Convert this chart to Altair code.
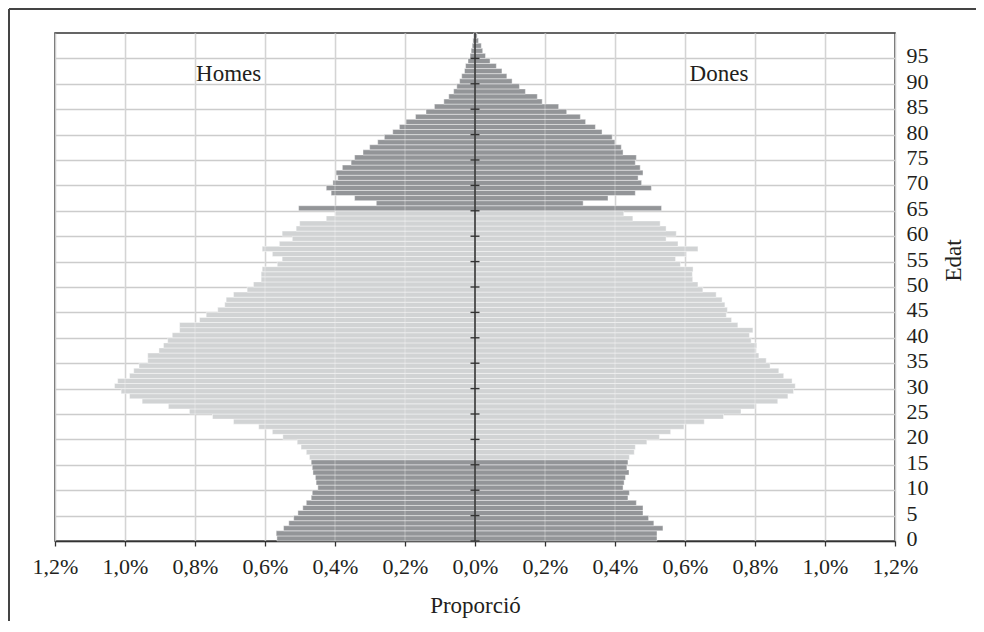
import altair as alt
import pandas as pd

# ---- data ----
ages = list(range(100))
homes = [
    0.566, 0.568, 0.547, 0.532, 0.518, 0.506, 0.492, 0.482, 0.468, 0.465,
    0.449, 0.454, 0.456, 0.463, 0.465, 0.468, 0.473, 0.482, 0.497, 0.508,
    0.549, 0.579, 0.618, 0.690, 0.750, 0.816, 0.876, 0.951, 0.987, 1.011,
    1.030, 1.021, 0.987, 0.975, 0.960, 0.935, 0.935, 0.903, 0.890, 0.878,
    0.865, 0.844, 0.844, 0.787, 0.768, 0.735, 0.715, 0.711, 0.690, 0.651,
    0.633, 0.611, 0.611, 0.608, 0.565, 0.551, 0.579, 0.608, 0.559, 0.522,
    0.551, 0.511, 0.501, 0.425, 0.399, 0.504, 0.282, 0.344, 0.411, 0.425,
    0.406, 0.392, 0.397, 0.379, 0.354, 0.344, 0.320, 0.301, 0.278, 0.259,
    0.235, 0.216, 0.197, 0.170, 0.140, 0.116, 0.089, 0.075, 0.061, 0.052,
    0.044, 0.038, 0.030, 0.027, 0.020, 0.014, 0.011, 0.008, 0.006, 0.004,
]
dones = [
    0.520, 0.520, 0.537, 0.511, 0.496, 0.480, 0.480, 0.461, 0.437, 0.441,
    0.423, 0.426, 0.430, 0.440, 0.434, 0.437, 0.441, 0.455, 0.458, 0.491,
    0.527, 0.559, 0.597, 0.655, 0.710, 0.760, 0.800, 0.865, 0.894, 0.910,
    0.915, 0.906, 0.882, 0.868, 0.843, 0.832, 0.811, 0.803, 0.805, 0.789,
    0.784, 0.794, 0.751, 0.733, 0.718, 0.721, 0.714, 0.706, 0.689, 0.651,
    0.637, 0.622, 0.621, 0.623, 0.587, 0.573, 0.604, 0.637, 0.580, 0.546,
    0.575, 0.546, 0.529, 0.451, 0.425, 0.533, 0.309, 0.380, 0.458, 0.504,
    0.476, 0.466, 0.480, 0.472, 0.458, 0.461, 0.423, 0.418, 0.400, 0.392,
    0.363, 0.344, 0.316, 0.301, 0.262, 0.239, 0.192, 0.178, 0.144, 0.127,
    0.106, 0.091, 0.077, 0.061, 0.043, 0.030, 0.022, 0.018, 0.010, 0.006,
]
age_ticks = list(range(0, 100, 5))
x_ticks = [-1.2, -1.0, -0.8, -0.6, -0.4, -0.2, 0.0, 0.2, 0.4, 0.6, 0.8, 1.0, 1.2]
inner_grid = [-1.0, -0.8, -0.6, -0.4, -0.2, 0.2, 0.4, 0.6, 0.8, 1.0]
sex_labels = ["Homes", "Dones"]
sex_label_x = [-0.704, 0.697]
sex_label_y = [90.55, 90.55]
group_names = ["dependent", "actiu"]
group_colors = ["#939598", "#d1d3d4"]

# ---- tables ----
rows = []
for a, h, d in zip(ages, homes, dones):
    g = "dependent" if (a <= 15 or a >= 65) else "actiu"
    rows.append({"edat": a, "sexe": "Homes", "valor": -h, "grup": g, "zero": 0.0})
    rows.append({"edat": a, "sexe": "Dones", "valor": d, "grup": g, "zero": 0.0})
df = pd.DataFrame(rows)
lab_df = pd.DataFrame({"t": sex_labels, "x": sex_label_x, "y": sex_label_y})
tick_df = pd.DataFrame({"e": age_ticks, "zero": [0.0] * len(age_ticks)})
axis_df = pd.DataFrame({"e0": [0], "e1": [100], "zero": [0.0]})
grid_df = pd.DataFrame({"g": inner_grid, "e0": [0] * len(inner_grid), "e1": [100] * len(inner_grid)})
one = pd.DataFrame({"k": [0]})

FONT = "Liberation Serif"
TXT = "#231f20"
xscale = alt.Scale(domain=[-1.2, 1.2], nice=False, zero=False)
yscale = alt.Scale(domain=[0, 100], nice=False, zero=False)

X_AXIS = alt.Axis(
    values=x_ticks,
    labelExpr="replace(format(abs(datum.value), '.1f'), '.', ',') + '%'",
    title="Proporció", grid=True, gridColor="#cccccc", gridWidth=1.5,
    domainColor="#333333", domainWidth=1.5, tickColor="#333333",
    tickSize=5, tickWidth=1.3, labelFont=FONT, labelFontSize=22,
    labelColor=TXT, labelPadding=10, labelFlush=False, labelOverlap=False,
    titleFont=FONT, titleFontSize=23, titleFontWeight="normal",
    titleColor=TXT, titleY=71, titleBaseline="alphabetic",
)
Y_AXIS = alt.Axis(
    orient="right", values=age_ticks, title="Edat", grid=True,
    gridColor="#cccccc", gridWidth=1.5, domain=False, ticks=False,
    tickSize=0, labelPadding=11, labelOffset=-2.5, labelAlign="left",
    labelBaseline="middle", labelFont=FONT, labelFontSize=22,
    labelColor=TXT, labelFlush=False, labelOverlap=False,
    titleFont=FONT, titleFontSize=23, titleFontWeight="normal",
    titleColor=TXT, titleAngle=270, titleX=58, titleY=227,
    titleAlign="center", titleBaseline="middle",
)

bars = alt.Chart(df).transform_calculate(
    e0="datum.edat", e1="datum.edat + 1"
).mark_rect(stroke="white", strokeWidth=0.7, strokeOpacity=0.6).encode(
    x=alt.X("zero:Q", scale=xscale, axis=X_AXIS),
    x2="valor:Q",
    y=alt.Y("e0:Q", scale=yscale, axis=Y_AXIS),
    y2="e1:Q",
    color=alt.Color("grup:N", scale=alt.Scale(domain=group_names, range=group_colors), legend=None),
)

overlay_grid = alt.Chart(grid_df).mark_rule(color="white", strokeOpacity=0.35, strokeWidth=1).encode(
    x=alt.X("g:Q", scale=xscale, axis=X_AXIS),
    y=alt.Y("e0:Q", scale=yscale, axis=Y_AXIS),
    y2="e1:Q",
)

center = alt.Chart(axis_df).mark_rule(color="#333333", strokeWidth=1.6).encode(
    x=alt.X("zero:Q", scale=xscale, axis=X_AXIS),
    y=alt.Y("e0:Q", scale=yscale, axis=Y_AXIS),
    y2="e1:Q",
)

center_ticks = alt.Chart(tick_df).mark_rule(
    color="#333333", strokeWidth=1.4, xOffset=-4.5, x2Offset=4.5
).encode(
    x=alt.X("zero:Q", scale=xscale, axis=X_AXIS),
    x2="zero:Q",
    y=alt.Y("e:Q", scale=yscale, axis=Y_AXIS),
)

texts = alt.Chart(lab_df).mark_text(
    font=FONT, fontSize=23, color=TXT, baseline="alphabetic", align="center"
).encode(
    x=alt.X("x:Q", scale=xscale, axis=X_AXIS),
    y=alt.Y("y:Q", scale=yscale, axis=Y_AXIS),
    text="t:N",
)

left_line = alt.Chart(one).mark_rule(color="#444444", strokeWidth=2).encode(
    x=alt.value(-46), y=alt.value(-24), y2=alt.value(590)
)
top_line = alt.Chart(one).mark_rule(color="#444444", strokeWidth=2).encode(
    x=alt.value(-46), x2=alt.value(925), y=alt.value(-24)
)

chart = alt.layer(
    bars, overlay_grid, center, center_ticks, texts, left_line, top_line
).properties(
    width=840, height=508,
    autosize=alt.AutoSizeParams(type="none"),
    padding={"left": 47, "top": 25, "right": 81, "bottom": 80},
).configure(
    background="white",
    view=alt.ViewConfig(stroke="#333333", strokeWidth=1.5),
)

chart.save("out.html", embed_options={"renderer": "svg", "actions": False})
